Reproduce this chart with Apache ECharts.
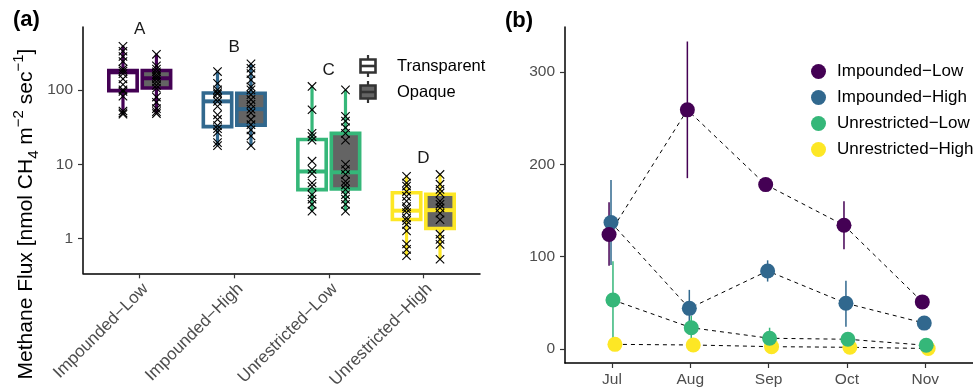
<!DOCTYPE html>
<html>
<head>
<meta charset="utf-8">
<script src="https://cdn.jsdelivr.net/npm/echarts@6/dist/echarts.min.js"></script>
<style>
  html, body { margin: 0; padding: 0; background: #fff; }
  #chart { width: 973px; height: 391px; }
</style>
</head>
<body>
<div id="chart"></div>
<script>
// ---- data -------------------------------------------------------------
const sites = ['Impounded\u2212Low', 'Impounded\u2212High', 'Unrestricted\u2212Low', 'Unrestricted\u2212High'];
const siteColors = ['#440154', '#31688E', '#35B779', '#FDE725'];
const groupLetters = ['A', 'B', 'C', 'D'];

// quartiles [Q1, median, Q3] per site
const transparentQuartiles = [[97.5, 172, 182], [32, 70, 90.6], [4.56, 8.0, 21.5], [1.81, 2.38, 4.15]];
const opaqueQuartiles = [[106, 143, 182], [33.6, 55, 90], [4.66, 7.8, 26], [1.37, 2.42, 3.95]];

// individual chamber fluxes (nmol CH4 m-2 s-1)
const transparentFlux = [
  [385, 330, 280, 240, 190, 178, 165, 140, 118, 100, 95, 82, 52, 49, 47],
  [176, 122, 100, 92, 88, 77, 70, 60, 46, 40, 33, 30, 27, 19.5, 17.8],
  [111, 54, 26, 23.5, 21, 11, 8.5, 7.5, 5.6, 5.0, 3.9, 3.4, 2.9, 2.35],
  [6.9, 5.6, 5.1, 4.3, 3.7, 3.2, 2.7, 2.5, 2.25, 1.9, 1.75, 1.55, 1.27, 0.85, 0.72, 0.59]
];
const opaqueFlux = [
  [300, 210, 190, 175, 160, 150, 140, 128, 115, 105, 80, 68, 56, 51, 48],
  [223, 195, 165, 136, 110, 100, 86, 74, 64, 55, 49, 40, 34, 29, 24, 17.8],
  [100, 44, 38, 31, 26, 21, 10, 8.5, 7.3, 5.9, 5.3, 4.6, 3.9, 3.4, 2.9, 2.35],
  [7.3, 5.4, 4.6, 4.1, 3.2, 2.9, 2.6, 2.2, 1.8, 1.15, 0.98, 0.84, 0.53]
];

const months = ['Jul', 'Aug', 'Sep', 'Oct', 'Nov'];
const monthlyMean = [
  [124, 259, 178, 134, 51],
  [137, 44, 84.5, 49.5, 28],
  [53, 23, 11.6, 10.5, 4],
  [5, 4.3, 2.5, 1.8, 0.5]
];
const monthlyLower = [
  [90, 185, 172, 108, 49],
  [91, 24, 73, 24, 26],
  [11, 10, 1, 6, 2],
  [3, 3, 1.5, 1, 0.3]
];
const monthlyUpper = [
  [159, 333, 184, 160, 53],
  [183, 64, 96, 74, 30],
  [95, 36, 23, 15, 6],
  [7, 6, 3.5, 2.6, 0.7]
];

// ---- drawing ----------------------------------------------------------
const FONT = '"Liberation Sans", Arial, Helvetica, sans-serif';
const AXIS_TEXT = '#4d4d4d';
const BOX_WIDTH = 0.30;
const BOX_DODGE = 0.177;
const OPAQUE_FILL = '#646464';
const monthDodge = i => (i - 1.5) * 0.025;

const chart = echarts.init(document.getElementById('chart'), null, { renderer: 'canvas' });

function boxRows(quartiles, flux, side) {
  return sites.map((s, i) => [
    i + 1 + side * BOX_DODGE,
    Math.min(...flux[i]),
    quartiles[i][0], quartiles[i][1], quartiles[i][2],
    Math.max(...flux[i]),
    i
  ]);
}

const renderBox = fill => (params, api) => {
  const x = api.value(0);
  const color = siteColors[api.value(6)];
  const at = v => api.coord([x, v]);
  const cx = at(api.value(3))[0];
  const xl = api.coord([x - BOX_WIDTH / 2, 1])[0];
  const xr = api.coord([x + BOX_WIDTH / 2, 1])[0];
  const yMin = at(api.value(1))[1];
  const yQ1 = at(api.value(2))[1];
  const yMed = at(api.value(3))[1];
  const yQ3 = at(api.value(4))[1];
  const yMax = at(api.value(5))[1];
  return {
    type: 'group',
    children: [
      { type: 'line', shape: { x1: cx, y1: yMax, x2: cx, y2: yMin }, style: { stroke: color, lineWidth: 3.2 } },
      { type: 'rect', shape: { x: xl, y: yQ3, width: xr - xl, height: yQ1 - yQ3 },
        style: { fill: fill, stroke: color, lineWidth: 3.6 } },
      { type: 'line', shape: { x1: xl, y1: yMed, x2: xr, y2: yMed }, style: { stroke: color, lineWidth: 4 } }
    ]
  };
};

const pointRows = [];
sites.forEach((s, i) => {
  transparentFlux[i].forEach(v => pointRows.push([i + 1 - BOX_DODGE, v]));
  opaqueFlux[i].forEach(v => pointRows.push([i + 1 + BOX_DODGE, v]));
});

function renderCross(params, api) {
  const p = api.coord([api.value(0), api.value(1)]);
  const h = 4.2;
  const st = { stroke: '#000', lineWidth: 1.1 };
  return {
    type: 'group',
    children: [
      { type: 'line', shape: { x1: p[0] - h, y1: p[1] - h, x2: p[0] + h, y2: p[1] + h }, style: st },
      { type: 'line', shape: { x1: p[0] - h, y1: p[1] + h, x2: p[0] + h, y2: p[1] - h }, style: st }
    ]
  };
}

const letterRows = sites.map((s, i) => [i + 1, Math.max(...transparentFlux[i], ...opaqueFlux[i]), i]);

function renderLetter(params, api) {
  const p = api.coord([api.value(0), api.value(1)]);
  return {
    type: 'text', x: p[0], y: p[1] - 8,
    style: {
      text: groupLetters[api.value(2)], fontSize: 17, fontFamily: FONT, fill: '#1a1a1a',
      textAlign: 'center', textVerticalAlign: 'bottom', align: 'center', verticalAlign: 'bottom'
    }
  };
}

const series = [
  { type: 'custom', xAxisIndex: 0, yAxisIndex: 0, renderItem: renderBox('#ffffff'),
    encode: { x: 0, y: [1, 2, 3, 4, 5] }, data: boxRows(transparentQuartiles, transparentFlux, -1), z: 2, silent: true },
  { type: 'custom', xAxisIndex: 0, yAxisIndex: 0, renderItem: renderBox(OPAQUE_FILL),
    encode: { x: 0, y: [1, 2, 3, 4, 5] }, data: boxRows(opaqueQuartiles, opaqueFlux, 1), z: 2, silent: true },
  { type: 'custom', xAxisIndex: 0, yAxisIndex: 0, renderItem: renderCross,
    encode: { x: 0, y: 1 }, data: pointRows, z: 3, silent: true },
  { type: 'custom', xAxisIndex: 0, yAxisIndex: 0, renderItem: renderLetter,
    encode: { x: 0, y: 1 }, data: letterRows, z: 3, silent: true }
];

// monthly panel: error bars and dashed trend lines underneath the points
sites.forEach((s, i) => {
  const color = siteColors[i];
  series.push({
    type: 'custom', xAxisIndex: 1, yAxisIndex: 1, silent: true, z: 2,
    encode: { x: 0, y: [1, 2] },
    data: months.map((m, j) => [j + monthDodge(i), monthlyLower[i][j], monthlyUpper[i][j]]),
    renderItem: (params, api) => {
      const a = api.coord([api.value(0), api.value(1)]);
      const b = api.coord([api.value(0), api.value(2)]);
      return { type: 'line', shape: { x1: a[0], y1: a[1], x2: b[0], y2: b[1] }, style: { stroke: color, lineWidth: 1.5 } };
    }
  });
  series.push({
    type: 'line', xAxisIndex: 1, yAxisIndex: 1, silent: true, z: 2,
    data: months.map((m, j) => [j + monthDodge(i), monthlyMean[i][j]]),
    symbol: 'none',
    lineStyle: { color: '#000', width: 1, type: [4, 4] }
  });
});
[3, 2, 1, 0].forEach(i => {
  series.push({
    type: 'scatter', name: sites[i], xAxisIndex: 1, yAxisIndex: 1, z: 4,
    data: months.map((m, j) => [j + monthDodge(i), monthlyMean[i][j]]),
    symbolSize: 15,
    itemStyle: { color: siteColors[i], opacity: 1 }
  });
});

const axisLine = { show: true, onZero: false, lineStyle: { color: '#000', width: 1.5 } };
const axisTickStyle = { lineStyle: { color: '#333', width: 1.2 } };

const option = {
  animation: false,
  backgroundColor: '#fff',
  textStyle: { fontFamily: FONT },
  grid: [
    { left: 83, top: 27, width: 397, height: 247 },
    { left: 565, top: 27, width: 408, height: 336 }
  ],
  xAxis: [
    {
      type: 'value', gridIndex: 0, min: 0.4, max: 4.6,
      axisLine: axisLine,
      axisTick: Object.assign({ show: true, length: 5, customValues: [1, 2, 3, 4] }, axisTickStyle),
      axisLabel: {
        customValues: [1, 2, 3, 4], formatter: v => sites[Math.round(v) - 1],
        rotate: 45, align: 'right', verticalAlign: 'top', margin: 7,
        fontSize: 17, color: AXIS_TEXT, fontFamily: FONT
      },
      splitLine: { show: false }
    },
    {
      type: 'value', gridIndex: 1, min: -0.6, max: 4.61,
      axisLine: axisLine,
      axisTick: Object.assign({ show: true, length: 5, customValues: [0, 1, 2, 3, 4] }, axisTickStyle),
      axisLabel: {
        customValues: [0, 1, 2, 3, 4], formatter: v => months[Math.round(v)],
        margin: 9, fontSize: 15.5, color: AXIS_TEXT, fontFamily: FONT
      },
      splitLine: { show: false }
    }
  ],
  yAxis: [
    {
      type: 'log', logBase: 10, gridIndex: 0, min: 0.343, max: 698,
      axisLine: axisLine,
      axisTick: Object.assign({ show: true, length: 5, customValues: [1, 10, 100] }, axisTickStyle),
      axisLabel: {
        customValues: [1, 10, 100], formatter: v => String(Math.round(v)),
        margin: 10, fontSize: 15.5, color: AXIS_TEXT, fontFamily: FONT
      },
      splitLine: { show: false }
    },
    {
      type: 'value', gridIndex: 1, min: -15.2, max: 348.7,
      axisLine: axisLine,
      axisTick: Object.assign({ show: true, length: 5, customValues: [0, 100, 200, 300] }, axisTickStyle),
      axisLabel: {
        customValues: [0, 100, 200, 300],
        margin: 10, fontSize: 15.5, color: AXIS_TEXT, fontFamily: FONT
      },
      splitLine: { show: false }
    }
  ],
  legend: {
    orient: 'vertical', left: 811, top: 63, padding: 0,
    itemWidth: 15, itemHeight: 15, itemGap: 9,
    icon: 'circle',
    data: sites.slice(),
    textStyle: { fontSize: 17, color: '#000', fontFamily: FONT, padding: [0, 0, 0, 6] },
    selectedMode: false
  },
  graphic: [
    { type: 'text', x: 13, y: 20,
      style: { text: '(a)', fontSize: 22, fontWeight: 'bold', fontFamily: FONT, fill: '#000',
        textAlign: 'left', textVerticalAlign: 'middle', align: 'left', verticalAlign: 'middle' } },
    { type: 'text', x: 505, y: 21,
      style: { text: '(b)', fontSize: 22, fontWeight: 'bold', fontFamily: FONT, fill: '#000',
        textAlign: 'left', textVerticalAlign: 'middle', align: 'left', verticalAlign: 'middle' } },
    { type: 'text', x: 26, y: 214, rotation: Math.PI / 2,
      style: {
        text: '{n|Methane Flux [nmol CH}{sub|4}{n| m}{sup|\u22122}{n| sec}{sup|\u22121}{n|]}',
        textAlign: 'center', textVerticalAlign: 'middle', align: 'center', verticalAlign: 'middle',
        fill: '#000',
        rich: {
          n: { fontSize: 21, fontFamily: FONT, fill: '#000', lineHeight: 30 },
          sub: { fontSize: 15, fontFamily: FONT, fill: '#000', lineHeight: 15, verticalAlign: 'bottom' },
          sup: { fontSize: 15, fontFamily: FONT, fill: '#000', lineHeight: 15, verticalAlign: 'top' }
        }
      } },
    // box legend: transparent / opaque chambers
    { type: 'group', children: [
      { type: 'line', shape: { x1: 368, y1: 55, x2: 368, y2: 77 }, style: { stroke: '#333', lineWidth: 2.2 } },
      { type: 'rect', shape: { x: 360.5, y: 59.5, width: 15, height: 13 }, style: { fill: '#fff', stroke: '#333', lineWidth: 2.6 } },
      { type: 'line', shape: { x1: 360.5, y1: 66, x2: 375.5, y2: 66 }, style: { stroke: '#333', lineWidth: 2.6 } },
      { type: 'line', shape: { x1: 368, y1: 81, x2: 368, y2: 103 }, style: { stroke: '#333', lineWidth: 2.2 } },
      { type: 'rect', shape: { x: 360.5, y: 85.5, width: 15, height: 13 }, style: { fill: OPAQUE_FILL, stroke: '#333', lineWidth: 2.6 } },
      { type: 'line', shape: { x1: 360.5, y1: 92, x2: 375.5, y2: 92 }, style: { stroke: '#333', lineWidth: 2.6 } },
      { type: 'text', x: 397, y: 66, style: { text: 'Transparent', fontSize: 16.5, fontFamily: FONT, fill: '#000',
        textAlign: 'left', textVerticalAlign: 'middle', align: 'left', verticalAlign: 'middle' } },
      { type: 'text', x: 397, y: 92, style: { text: 'Opaque', fontSize: 16.5, fontFamily: FONT, fill: '#000',
        textAlign: 'left', textVerticalAlign: 'middle', align: 'left', verticalAlign: 'middle' } }
    ] }
  ],
  series: series
};

chart.setOption(option);
</script>
</body>
</html>
